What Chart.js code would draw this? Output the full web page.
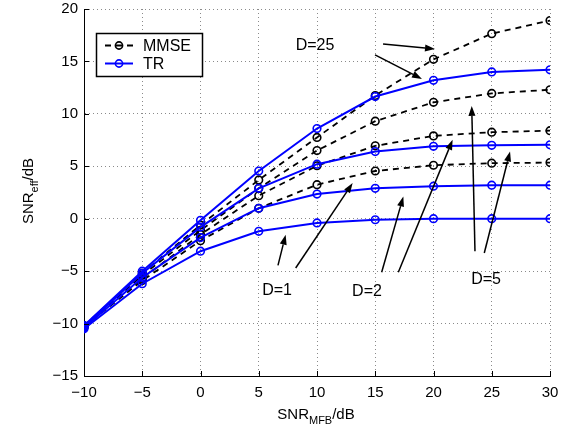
<!DOCTYPE html>
<html><head><meta charset="utf-8">
<script src="https://cdn.jsdelivr.net/npm/chart.js@4/dist/chart.umd.min.js"></script>
<style>html,body{margin:0;padding:0;background:#fff}canvas{display:block}</style>
</head><body>
<canvas id="c" width="567" height="427"></canvas>
<script>
// ---- data ----
const snrMFB = [-10, -5, 0, 5, 10, 15, 20, 25, 30];
const trD1   = [-10.5, -6.2, -3.1, -1.2, -0.4, -0.1, 0.0, 0.0, 0.0];
const trD2   = [-10.4, -5.6, -1.8, 1.0, 2.35, 2.9, 3.1, 3.2, 3.2];
const trD5   = [-10.3, -5.2, -0.8, 2.9, 5.2, 6.4, 6.9, 7.0, 7.05];
const trD25  = [-10.2, -5.0, -0.15, 4.55, 8.6, 11.65, 13.2, 14.0, 14.2];
const mmseD1  = [-10.3, -5.9, -2.1, 1.0, 3.25, 4.55, 5.1, 5.3, 5.35];
const mmseD2  = [-10.3, -5.7, -1.5, 2.2, 5.05, 6.95, 7.9, 8.25, 8.4];
const mmseD5  = [-10.3, -5.4, -1.1, 2.9, 6.5, 9.3, 11.1, 11.95, 12.3];
const mmseD25 = [-10.2, -5.2, -0.6, 3.7, 7.75, 11.75, 15.2, 17.65, 18.9];
const xTicks = [-10, -5, 0, 5, 10, 15, 20, 25, 30];
const yTicks = [-15, -10, -5, 0, 5, 10, 15, 20];
const legendLabels = ['MMSE', 'TR'];
const annotLabels = ['D=25', 'D=1', 'D=2', 'D=5'];
const annotX = [9.83, 6.57, 14.29, 24.51];
const annotY = [16.48, -6.86, -6.95, -5.81];
// arrows: from (x, y) to (x, y) in data units
const arrowFromX = [15.67, 14.98, 6.65, 8.17, 15.55, 16.98, 23.56, 24.36];
const arrowFromY = [16.67, 15.62, -4.45, -4.70, -5.11, -5.11, -3.11, -3.27];
const arrowToX   = [20.13, 19.01, 7.31, 13.06, 17.41, 21.64, 23.28, 26.57];
const arrowToY   = [16.19, 13.33, -1.52, 3.40, 2.12, 7.52, 10.76, 6.41];

const FONT = '"Liberation Sans", Arial, Helvetica, sans-serif';
const BLUE = '#0000ff';
const fmt = v => (v < 0 ? '\u2212' + Math.abs(v) : String(v));
const pts = arr => arr.map((v, i) => ({x: snrMFB[i], y: v}));

function trSet(arr){
  return {label:'TR', data:pts(arr), borderColor:BLUE, borderWidth:2, pointRadius:3.8,
    pointBorderWidth:1.6, pointBorderColor:BLUE, pointBackgroundColor:'rgba(0,0,0,0)', fill:false, tension:0};
}
function mmseSet(arr){
  return {label:'MMSE', data:pts(arr), borderColor:'#000', borderWidth:1.8, borderDash:[6,5], pointRadius:3.8,
    pointBorderWidth:1.6, pointBorderColor:'#000', pointBackgroundColor:'rgba(0,0,0,0)', fill:false, tension:0};
}

function drawSub(ctx, main, sub, tail, x, y, size){
  ctx.font = size + 'px ' + FONT;
  const w1 = ctx.measureText(main).width;
  const w3 = ctx.measureText(tail).width;
  ctx.font = Math.round(size*0.72) + 'px ' + FONT;
  const w2 = ctx.measureText(sub).width;
  let sx = x - (w1+w2+w3)/2;
  ctx.textAlign = 'left'; ctx.textBaseline = 'alphabetic';
  ctx.font = size + 'px ' + FONT; ctx.fillText(main, sx, y); sx += w1;
  ctx.font = Math.round(size*0.72) + 'px ' + FONT; ctx.fillText(sub, sx, y + size*0.35); sx += w2;
  ctx.font = size + 'px ' + FONT; ctx.fillText(tail, sx, y);
}

const overlay = {
  id: 'overlay',
  afterDraw(chart){
    const {ctx, chartArea:a} = chart;
    const xs = chart.scales.x, ys = chart.scales.y;
    ctx.save();
    // inward ticks
    ctx.strokeStyle = '#000'; ctx.lineWidth = 1; ctx.setLineDash([]);
    ctx.beginPath();
    xTicks.forEach(v => { const p = Math.round(xs.getPixelForValue(v)) + 0.5; ctx.moveTo(p, a.bottom); ctx.lineTo(p, a.bottom - 5); });
    yTicks.forEach(v => { const p = Math.round(ys.getPixelForValue(v)) + 0.5; ctx.moveTo(a.left, p); ctx.lineTo(a.left + 5, p); });
    ctx.stroke();
    // arrows
    ctx.fillStyle = '#000'; ctx.strokeStyle = '#000'; ctx.lineWidth = 1.5;
    for (let i = 0; i < arrowFromX.length; i++){
      const x1 = xs.getPixelForValue(arrowFromX[i]), y1 = ys.getPixelForValue(arrowFromY[i]);
      const x2 = xs.getPixelForValue(arrowToX[i]), y2 = ys.getPixelForValue(arrowToY[i]);
      const ang = Math.atan2(y2 - y1, x2 - x1);
      const L = 10, W = 3.5;
      const bx = x2 - L*Math.cos(ang), by = y2 - L*Math.sin(ang);
      ctx.beginPath(); ctx.moveTo(x1, y1); ctx.lineTo(bx, by); ctx.stroke();
      ctx.beginPath(); ctx.moveTo(x2, y2);
      ctx.lineTo(bx + W*Math.sin(ang), by - W*Math.cos(ang));
      ctx.lineTo(bx - W*Math.sin(ang), by + W*Math.cos(ang));
      ctx.closePath(); ctx.fill();
    }
    // annotation texts
    ctx.font = '16px ' + FONT; ctx.textAlign = 'center'; ctx.textBaseline = 'middle'; ctx.fillStyle = '#000';
    annotLabels.forEach((t, i) => ctx.fillText(t, xs.getPixelForValue(annotX[i]), ys.getPixelForValue(annotY[i])));
    // legend
    const lx = 96.5, ly = 33.5, lw = 106, lh = 43;
    ctx.fillStyle = '#fff'; ctx.fillRect(lx, ly, lw, lh);
    ctx.strokeStyle = '#000'; ctx.lineWidth = 1.5; ctx.strokeRect(lx, ly, lw, lh);
    const rows = [45.5, 63.5];
    const styles = [{c:'#000', dash:[6,5], w:1.8}, {c:BLUE, dash:[], w:2}];
    legendLabels.forEach((t, i) => {
      const s = styles[i];
      ctx.strokeStyle = s.c; ctx.lineWidth = s.w; ctx.setLineDash(s.dash);
      ctx.beginPath(); ctx.moveTo(105, rows[i]); ctx.lineTo(133, rows[i]); ctx.stroke();
      ctx.setLineDash([]); ctx.lineWidth = 1.6;
      ctx.beginPath(); ctx.arc(119, rows[i], 3.6, 0, Math.PI*2); ctx.stroke();
      ctx.fillStyle = '#000'; ctx.font = '16px ' + FONT; ctx.textAlign = 'left'; ctx.textBaseline = 'middle';
      ctx.fillText(t, 143, rows[i] + 1);
    });
    // axis titles
    ctx.fillStyle = '#000';
    drawSub(ctx, 'SNR', 'MFB', '/dB', 316, 419, 15);
    ctx.save(); ctx.translate(33, 191); ctx.rotate(-Math.PI/2);
    drawSub(ctx, 'SNR', 'eff', '/dB', 0, 0, 15);
    ctx.restore();
    ctx.restore();
  }
};

new Chart(document.getElementById('c'), {
  type: 'line',
  data: {
    datasets: [trSet(trD25), trSet(trD5), trSet(trD2), trSet(trD1),
               mmseSet(mmseD25), mmseSet(mmseD5), mmseSet(mmseD2), mmseSet(mmseD1)]
  },
  options: {
    responsive: false, animation: false, devicePixelRatio: 1,
    layout: {padding: {left: 0, right: 17, top: 9, bottom: 0}},
    plugins: {legend: {display: false}, tooltip: {enabled: false}},
    scales: {
      x: {
        type: 'linear', min: -10, max: 30,
        afterBuildTicks: s => { s.ticks = xTicks.map(v => ({value: v})); },
        afterFit: s => { s.height = 51; s.paddingLeft = 0; s.paddingRight = 0; },
        ticks: {color: '#000', font: {family: FONT, size: 15}, padding: 8, maxRotation: 0, callback: v => fmt(v)},
        grid: {color: '#8a8a8a', lineWidth: 1, drawTicks: false},
        border: {display: true, color: '#000', width: 1, dash: [1, 3]}
      },
      y: {
        type: 'linear', min: -15, max: 20,
        afterBuildTicks: s => { s.ticks = yTicks.map(v => ({value: v})); },
        afterFit: s => { s.width = 84; s.paddingTop = 0; s.paddingBottom = 0; },
        ticks: {color: '#000', font: {family: FONT, size: 15}, padding: 6, callback: v => fmt(v)},
        grid: {color: '#8a8a8a', lineWidth: 1, drawTicks: false},
        border: {display: true, color: '#000', width: 1, dash: [1, 3]}
      }
    }
  },
  plugins: [overlay]
});
</script>
</body></html>
